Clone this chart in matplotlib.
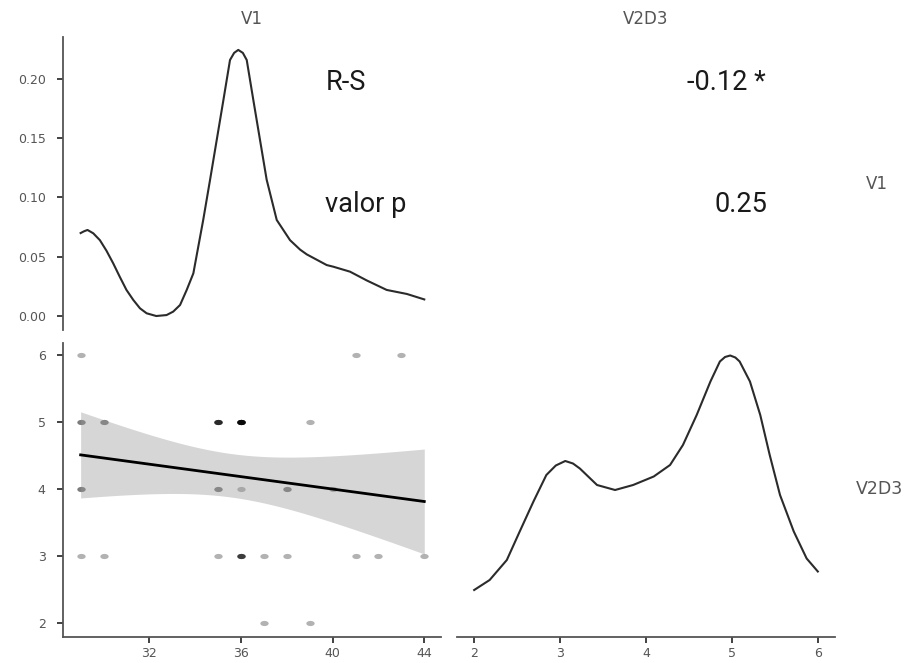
import numpy as np
import matplotlib
matplotlib.use("Agg")
import matplotlib.pyplot as plt
from matplotlib.path import Path

# scatter V1 vs V2D3 (x, y, number of overlapping cases)
pts_x = [29, 41, 43, 29, 30, 35, 36, 39, 29, 35, 36, 38, 40,
         29, 30, 35, 36, 37, 38, 41, 42, 44, 37, 39]
pts_y = [6, 6, 6, 5, 5, 5, 5, 5, 4, 4, 4, 4, 4,
         3, 3, 3, 3, 3, 3, 3, 3, 3, 2, 2]
pts_n = [1, 1, 1, 2, 2, 5, 9, 1, 2, 2, 1, 2, 1,
         1, 1, 1, 4, 1, 1, 1, 1, 1, 1, 1]

# density of V1
v1_x = [29.0, 29.15, 29.3, 29.55, 29.84, 30.13, 30.42, 30.71, 31.0, 31.3, 31.59,
        31.88, 32.3, 32.75, 33.04, 33.34, 33.63, 33.92, 34.35, 34.65, 34.94,
        35.23, 35.52, 35.7, 35.88, 36.08, 36.25, 36.54, 36.83, 37.12, 37.56,
        38.14, 38.58, 38.87, 39.74, 40.03, 40.76, 41.49, 42.36, 43.24, 44.0]
v1_d = [0.070, 0.0715, 0.0726, 0.0698, 0.064, 0.055, 0.0445, 0.033, 0.022,
        0.0135, 0.0065, 0.0023, 0.0, 0.0008, 0.0037, 0.0093, 0.022, 0.036,
        0.081, 0.115, 0.1485, 0.182, 0.216, 0.222, 0.2245, 0.222, 0.216, 0.182,
        0.1485, 0.115, 0.081, 0.064, 0.056, 0.052, 0.043, 0.0416, 0.0374, 0.030,
        0.022, 0.0186, 0.014]

# density of V2D3
v2_x = [2.0, 2.18, 2.38, 2.53, 2.69, 2.84, 2.95, 3.06, 3.15, 3.23, 3.43, 3.64,
        3.85, 4.09, 4.28, 4.43, 4.59, 4.75, 4.86, 4.92, 4.98, 5.04, 5.09, 5.21,
        5.33, 5.44, 5.56, 5.72, 5.87, 6.0]
v2_d = [0.094, 0.114, 0.154, 0.211, 0.271, 0.324, 0.343, 0.352, 0.347, 0.337,
        0.304, 0.294, 0.304, 0.321, 0.344, 0.384, 0.444, 0.511, 0.551, 0.560,
        0.563, 0.559, 0.551, 0.511, 0.444, 0.364, 0.284, 0.211, 0.157, 0.131]

r_label = "-0.12 *"
p_label = "0.25"

W, H = 908, 663
fig = plt.figure(figsize=(W / 100, H / 100), dpi=100)


def box(x0, y0, x1, y1):
    return [x0 / W, 1 - y1 / H, (x1 - x0) / W, (y1 - y0) / H]


tick_col = "#555555"
line_col = "#2b2b2b"
ann_font = ["Roboto", "DejaVu Sans"]


def style(ax, left=True, bottom=True):
    for s in ax.spines.values():
        s.set_visible(False)
    ax.spines["left"].set_visible(left)
    ax.spines["bottom"].set_visible(bottom)
    for s in ("left", "bottom"):
        ax.spines[s].set_color("#555555")
        ax.spines[s].set_linewidth(1.3)
    ax.tick_params(length=4.5, width=1.3, color="#333333", labelsize=9,
                   labelcolor=tick_col)
    ax.tick_params(axis="y", pad=8)
    ax.tick_params(axis="x", pad=3)
    if not left:
        ax.set_yticks([])
    if not bottom:
        ax.set_xticks([])
    ax.patch.set_alpha(0)


# top left: density of V1
ax1 = fig.add_axes(box(63, 37, 441, 330))
ax1.plot(v1_x, v1_d, color=line_col, lw=1.5)
ax1.set_xlim(28.23, 44.73)
ax1.set_ylim(-0.0118, 0.2354)
ax1.set_yticks([0.0, 0.05, 0.10, 0.15, 0.20])
ax1.set_yticklabels(["0.00", "0.05", "0.10", "0.15", "0.20"])
style(ax1, left=True, bottom=False)
ax1.text(0.694, 0.819, "R-S", transform=ax1.transAxes, fontsize=19.5,
         family=ann_font, va="baseline", ha="left", color="#1a1a1a")
ax1.text(0.694, 0.403, "valor p", transform=ax1.transAxes, fontsize=19.5,
         family=ann_font, va="baseline", ha="left", color="#1a1a1a")

# top right: correlation values
ax2 = fig.add_axes(box(457, 37, 835, 330))
style(ax2, left=False, bottom=False)
ax2.text(0.817, 0.819, r_label, transform=ax2.transAxes, fontsize=19.5,
         family=ann_font, va="baseline", ha="right", color="#1a1a1a")
ax2.text(0.822, 0.403, p_label, transform=ax2.transAxes, fontsize=19.5,
         family=ann_font, va="baseline", ha="right", color="#1a1a1a")

# bottom left: scatter with linear fit
ax3 = fig.add_axes(box(63, 343, 441, 637))
t = np.linspace(0, 2 * np.pi, 40)
dot = Path(np.column_stack([0.5 * np.cos(t), 0.31 * np.sin(t)]))
for x, y, n in zip(pts_x, pts_y, pts_n):
    for _ in range(n):
        ax3.scatter(x, y, s=36, marker=dot, color="black", alpha=0.3,
                    lw=0, zorder=2)

xs = np.repeat(pts_x, pts_n).astype(float)
ys = np.repeat(pts_y, pts_n).astype(float)
b, a = np.polyfit(xs, ys, 1)
n = len(xs)
resid = ys - (a + b * xs)
s = np.sqrt(np.sum(resid ** 2) / (n - 2))
sxx = np.sum((xs - xs.mean()) ** 2)
gx = np.linspace(xs.min(), xs.max(), 80)
se = s * np.sqrt(1 / n + (gx - xs.mean()) ** 2 / sxx)
tval = 2.02
fit = a + b * gx
ax3.fill_between(gx, fit - tval * se, fit + tval * se, color="#999999",
                 alpha=0.4, lw=0, zorder=3)
ax3.plot(gx, fit, color="black", lw=2, zorder=4)
ax3.set_xlim(28.23, 44.73)
ax3.set_ylim(1.79, 6.18)
ax3.set_xticks([32, 36, 40, 44])
ax3.set_yticks([2, 3, 4, 5, 6])
style(ax3, left=True, bottom=True)

# bottom right: density of V2D3
ax4 = fig.add_axes(box(457, 343, 835, 637))
ax4.plot(v2_x, v2_d, color=line_col, lw=1.5)
ax4.set_xlim(1.80, 6.20)
ax4.set_ylim(0, 0.588)
ax4.set_xticks([2, 3, 4, 5, 6])
style(ax4, left=False, bottom=True)

# strip labels
fig.text(252 / W, 1 - 19 / H, "V1", ha="center", va="center", fontsize=12,
         color=tick_col)
fig.text(646 / W, 1 - 19 / H, "V2D3", ha="center", va="center", fontsize=12,
         color=tick_col)
fig.text(877 / W, 1 - 184 / H, "V1", ha="center", va="center", fontsize=12,
         color=tick_col)
fig.text(879 / W, 1 - 489 / H, "V2D3", ha="center", va="center", fontsize=12.5,
         color=tick_col)

fig.savefig("out.png", dpi=100)
